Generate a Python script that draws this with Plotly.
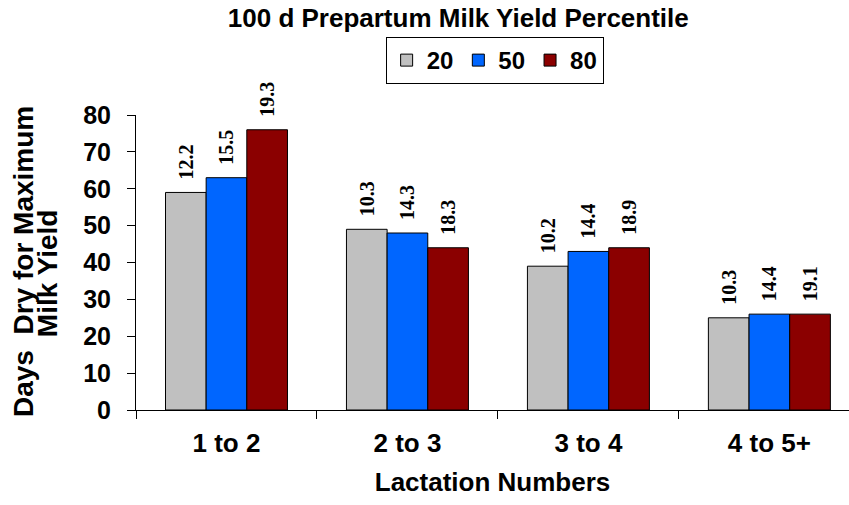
import plotly.graph_objects as go

categories = ["1 to 2", "2 to 3", "3 to 4", "4 to 5+"]
series_names = ["20", "50", "80"]
vals_20 = [59, 49, 39, 25]
vals_50 = [63, 48, 43, 26]
vals_80 = [76, 44, 44, 26]
labels_20 = ["12.2", "10.3", "10.2", "10.3"]
labels_50 = ["15.5", "14.3", "14.4", "14.4"]
labels_80 = ["19.3", "18.3", "18.9", "19.1"]
y_ticks = [0, 10, 20, 30, 40, 50, 60, 70, 80]

colors = ["#C0C0C0", "#0066FF", "#8B0000"]
SANS = "Liberation Sans, Arial, sans-serif"
SERIF = "Liberation Serif, Times New Roman, serif"

fig = go.Figure()
for name, vals, labs, col in zip(series_names, [vals_20, vals_50, vals_80],
                                 [labels_20, labels_50, labels_80], colors):
    fig.add_trace(go.Bar(
        name=name, x=categories, y=vals,
        text=["\u00a0\u00a0" + t for t in labs],
        textposition="outside", textangle=-90, constraintext="none",
        cliponaxis=False,
        textfont=dict(family=SERIF, size=20, color="black", weight="bold"),
        marker=dict(color=col, line=dict(color="black", width=1)),
    ))

fig.update_layout(
    width=849, height=505,
    margin=dict(l=136, r=0, t=115, b=95),
    paper_bgcolor="white", plot_bgcolor="white",
    barmode="group", bargap=0.326, bargroupgap=0,
    title=dict(text="<b>100 d Prepartum Milk Yield Percentile</b>",
               font=dict(family=SANS, size=26, color="black"),
               x=0.452, xref="paper", xanchor="center",
               y=0.964, yref="container", yanchor="middle"),
    legend=dict(orientation="h", x=0.503, xanchor="center", y=1.1847, yanchor="middle",
                bordercolor="black", borderwidth=1,
                font=dict(family=SANS, size=24, color="black", weight="bold"),
                itemwidth=30, traceorder="normal"),
    xaxis=dict(range=[-0.5, 3.44], showline=True, linecolor="black", linewidth=1,
               ticks="outside", tickson="boundaries", ticklen=8, tickcolor="black",
               showgrid=False, ticklabelstandoff=10,
               tickfont=dict(family=SANS, size=26, color="black", weight="bold"),
               title=dict(text="<b>Lactation Numbers</b>", standoff=15,
                          font=dict(family=SANS, size=26, color="black"))),
    yaxis=dict(range=[0, 80], tickvals=y_ticks, showline=True, linecolor="black",
               linewidth=1, ticks="outside", ticklen=8, tickcolor="black",
               showgrid=False, zeroline=False, ticklabelstandoff=11,
               tickfont=dict(family=SANS, size=25, color="black", weight="bold")),
    annotations=[
        dict(text="<b>Days\u00a0\u00a0Dry for Maximum</b>", textangle=-90,
             xref="paper", yref="paper", x=-0.1585, y=0.505,
             xanchor="center", yanchor="middle", showarrow=False,
             font=dict(family=SANS, size=28, color="black")),
        dict(text="<b>Milk Yield</b>", textangle=-90,
             xref="paper", yref="paper", x=-0.1248, y=0.464,
             xanchor="center", yanchor="middle", showarrow=False,
             font=dict(family=SANS, size=28, color="black")),
    ],
)

fig.write_html("out.html")
